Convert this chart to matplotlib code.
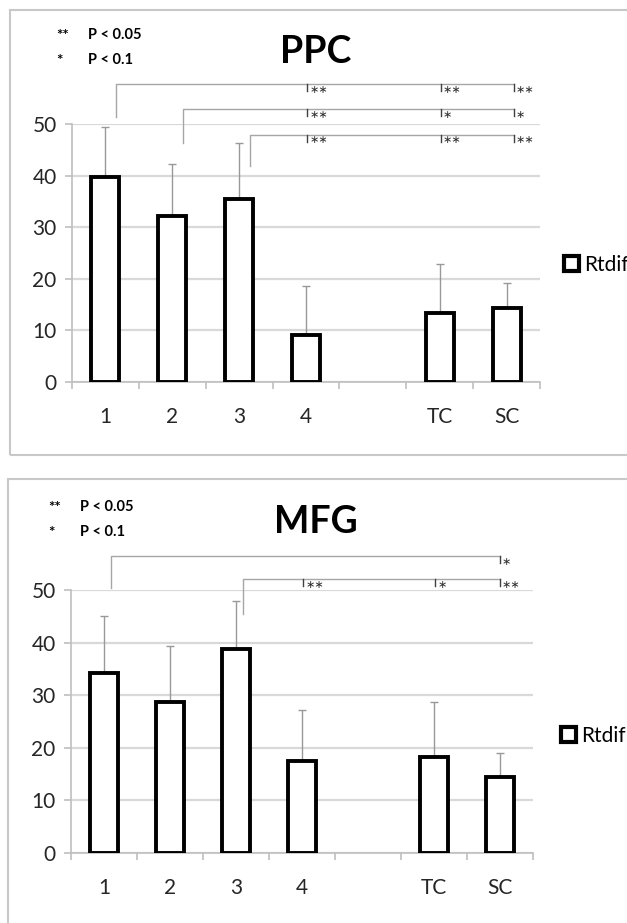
import numpy as np
import matplotlib
matplotlib.use("Agg")
import matplotlib.pyplot as plt
from matplotlib.patches import Rectangle, Patch

plt.rcParams["font.family"] = ["Lato", "DejaVu Sans"]

# -- Donnees ------------------------------------------------------------------
categories = ["1", "2", "3", "4", "", "TC", "SC"]

ppc_values = [39.7, 32.2, 35.4, 9.2, np.nan, 13.4, 14.4]
ppc_errors = [9.7, 10.1, 11.0, 9.4, np.nan, 9.5, 4.8]

mfg_values = [34.3, 28.8, 38.7, 17.5, np.nan, 18.3, 14.4]
mfg_errors = [10.8, 10.6, 9.3, 9.7, np.nan, 10.5, 4.7]

# crochets de significativite : (groupe de depart, [(groupe cible, etoiles)])
ppc_brackets = [
    ("1", [("4", "**"), ("TC", "**"), ("SC", "**")]),
    ("2", [("4", "**"), ("TC", "*"), ("SC", "*")]),
    ("3", [("4", "**"), ("TC", "**"), ("SC", "**")]),
]
mfg_brackets = [
    ("1", [("SC", "*")]),
    ("3", [("4", "**"), ("TC", "*"), ("SC", "**")]),
]

W, H = 627, 923
GRID = "#d9d9d9"
AXIS = "#bfbfbf"
BRK = "#a6a6a6"

fig = plt.figure(figsize=(W / 100, H / 100), dpi=100)


def px_axes(l, t, r, b):
    return fig.add_axes([l / W, 1 - b / H, (r - l) / W, (b - t) / H])


def draw_panel(ax, values, errors, brackets, levels, drops, start_dx, end_dx):
    x = np.arange(len(categories))
    vals = np.array(values, dtype=float)
    errs = np.array(errors, dtype=float)
    ok = ~np.isnan(vals)

    ax.set_xlim(-0.5, len(categories) - 0.5)
    ax.set_ylim(0, 50)
    ax.set_yticks([0, 10, 20, 30, 40, 50])
    ax.yaxis.grid(True, color=GRID, lw=1.6)
    ax.set_axisbelow(True)

    ax.bar(x[ok], vals[ok], width=0.42, color="white", edgecolor="black",
           lw=2.8, zorder=3)
    ax.errorbar(x[ok], vals[ok], yerr=[np.zeros(ok.sum()), errs[ok]],
                fmt="none", ecolor="#999999", elinewidth=1, capsize=3,
                capthick=1, zorder=2)

    for s in ["top", "right"]:
        ax.spines[s].set_visible(False)
    for s in ["left", "bottom"]:
        ax.spines[s].set_color(AXIS)
        ax.spines[s].set_linewidth(1.2)

    ax.set_xticks(x)
    ax.set_xticklabels(categories)
    ax.set_xticks(np.arange(len(categories) + 1) - 0.5, minor=True)
    ax.tick_params(axis="x", which="major", length=0, pad=18,
                   labelsize=15, labelcolor="#262626")
    ax.tick_params(axis="x", which="minor", length=5, color=AXIS, width=1.2)
    ax.tick_params(axis="y", length=5, color=AXIS, width=1.2, pad=6,
                   labelsize=15, labelcolor="#262626")

    # crochets
    for (start, targets), lvl, drop in zip(brackets, levels, drops):
        x0 = categories.index(start) + start_dx
        xs = [categories.index(t) for t, _ in targets]
        x1 = xs[-1] + end_dx
        ax.plot([x0, x0, x1], [drop, lvl, lvl], color=BRK, lw=1,
                clip_on=False, zorder=4)
        for i, (t, stars) in enumerate(targets):
            xt = xs[i] + (end_dx if i == len(targets) - 1 else 0.02)
            ax.plot([xt, xt], [lvl, lvl - 1.3], color="#404040", lw=1,
                    clip_on=False, zorder=5)
            ax.text(xt + 0.03, lvl - 0.1, stars.replace("*", "\u2217"),
                    fontsize=8, ha="left", va="top", color="#303030",
                    family="DejaVu Sans")

    leg = ax.legend(handles=[Patch(facecolor="white", edgecolor="black",
                                   lw=3, label="Rtdif")],
                    loc="center left", frameon=False, fontsize=15,
                    handlelength=0.7, handleheight=0.7, handletextpad=0.25,
                    borderaxespad=0)
    return leg


def sig_key(x0, y0):
    fig.text(x0 / W, 1 - (y0 + 1) / H, "**", fontsize=11, fontweight="bold", va="center")
    fig.text(x0 / W, 1 - (y0 + 26) / H, "*", fontsize=11, fontweight="bold", va="center")
    fig.text((x0 + 32) / W, 1 - y0 / H, "P < 0.05", fontsize=10.5, fontweight="bold", va="center")
    fig.text((x0 + 32) / W, 1 - (y0 + 25) / H, "P < 0.1", fontsize=10.5, fontweight="bold", va="center")


# -- Panneau PPC --------------------------------------------------------------
fig.patches.append(Rectangle((10 / W, 1 - 455 / H), 1, 445 / H,
                             transform=fig.transFigure, fill=False,
                             edgecolor="#c8c8c8", lw=1.5))
ax1 = px_axes(72, 124, 540, 382)
leg1 = draw_panel(ax1, ppc_values, ppc_errors, ppc_brackets,
                  levels=[57.7, 52.9, 47.9], drops=[51.4, 46.3, 41.8],
                  start_dx=0.16, end_dx=0.11)
leg1.set_bbox_to_anchor((556 / W, 1 - 265 / H), transform=fig.transFigure)
fig.text(316 / W, 1 - 52 / H, "PPC", fontsize=27, fontweight="bold",
         ha="center", va="center")
sig_key(56, 35)

# -- Panneau MFG --------------------------------------------------------------
fig.patches.append(Rectangle((8 / W, -0.1), 1, 1.1 - 479 / H,
                             transform=fig.transFigure, fill=False,
                             edgecolor="#c8c8c8", lw=1.5))
ax2 = px_axes(71, 590, 533, 853)
leg2 = draw_panel(ax2, mfg_values, mfg_errors, mfg_brackets,
                  levels=[56.4, 52.0], drops=[50.4, 45.5],
                  start_dx=0.11, end_dx=0.0)
leg2.set_bbox_to_anchor((553 / W, 1 - 736 / H), transform=fig.transFigure)
fig.text(316 / W, 1 - 522 / H, "MFG", fontsize=27, fontweight="bold",
         ha="center", va="center")
sig_key(48, 507)

fig.savefig("out.png", dpi=100, facecolor="white")
